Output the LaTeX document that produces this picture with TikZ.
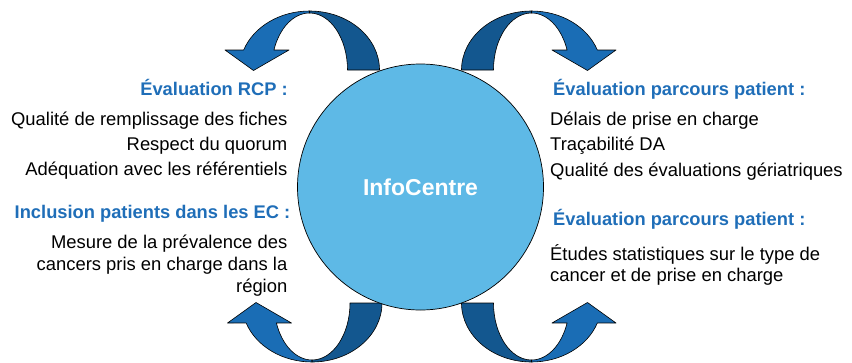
\documentclass[tikz,border=0pt]{standalone}
\usepackage{fontspec}
\setmainfont{Liberation Sans}
\definecolor{darkband}{HTML}{13578F}
\definecolor{lightband}{HTML}{1A6DB5}
\definecolor{disc}{HTML}{5EB9E6}
\definecolor{headblue}{HTML}{1F6EB8}
\tikzset{
  bodytxt/.style={inner sep=0pt, font=\fontsize{18.4}{22}\selectfont, text=black},
  headtxt/.style={inner sep=0pt, font=\fontsize{18.3}{22}\selectfont\bfseries, text=headblue},
  band/.style={draw=black, line width=0.6pt, line join=round},
}
\newcommand{\drawUturn}{%
  \path[band, fill=darkband] (379.5,70)
    arc[start angle=0, end angle=-90, x radius=70, y radius=59]
    -- ([shift={(309.5,70)}]-90:38 and 57)
    arc[start angle=-90, end angle=0, x radius=38, y radius=57] -- cycle;
  \path[band, fill=lightband] (309.5,11)
    arc[start angle=-90, end angle=-160.2, x radius=70, y radius=59]
    -- (225,50) -- (253.5,70.5) -- (289,50)
    -- ([shift={(309.5,70)}]-159.5:38 and 57)
    arc[start angle=-159.5, end angle=-90, x radius=38, y radius=57] -- cycle;
}
\begin{document}
\begin{tikzpicture}[x=1pt, y=-1pt]
\useasboundingbox (0,0) rectangle (852,362);
% curved arrows
\begin{scope}
  \drawUturn
\end{scope}
\begin{scope}[shift={(841,0)}, xscale=-1]
  \drawUturn
\end{scope}
\begin{scope}[shift={(2.5,373)}, yscale=-1]
  \drawUturn
\end{scope}
\begin{scope}[shift={(841,373)}, xscale=-1, yscale=-1]
  \drawUturn
\end{scope}
% central disc
\node[circle, draw=black, line width=0.7pt, fill=disc, minimum size=246pt, inner sep=0pt,
      text=white, font=\fontsize{23}{27}\selectfont\bfseries] (hub) at (420.5,187) {InfoCentre};
% left texts
\node[headtxt, anchor=base east] (l1) at (288,95) {Évaluation RCP :};
\node[bodytxt, anchor=base east] (l2) at (287.5,125) {Qualité de remplissage des fiches};
\node[bodytxt, anchor=base east] (l3) at (287.5,150.5) {Respect du quorum};
\node[bodytxt, anchor=base east] (l4) at (287.5,175.5) {Adéquation avec les référentiels};
\node[headtxt, anchor=base east] (l5) at (290.5,218) {Inclusion patients dans les EC :};
\node[bodytxt, anchor=base east] (l6) at (287.5,248) {Mesure de la prévalence des};
\node[bodytxt, anchor=base east] (l7) at (287.5,270) {cancers pris en charge dans la};
\node[bodytxt, anchor=base east] (l8) at (287.5,292) {région};
% right texts
\node[headtxt, anchor=base west] (r1) at (553,95) {Évaluation parcours patient :};
\node[bodytxt, anchor=base west] (r2) at (550,125) {Délais de prise en charge};
\node[bodytxt, anchor=base west] (r3) at (550,150.5) {Traçabilité DA};
\node[bodytxt, anchor=base west] (r4) at (550,176) {Qualité des évaluations gériatriques};
\node[headtxt, anchor=base west] (r5) at (553,225) {Évaluation parcours patient :};
\node[bodytxt, anchor=base west] (r6) at (550,260) {Études statistiques sur le type de};
\node[bodytxt, anchor=base west] (r7) at (550,281.5) {cancer et de prise en charge};
\end{tikzpicture}
\end{document}
